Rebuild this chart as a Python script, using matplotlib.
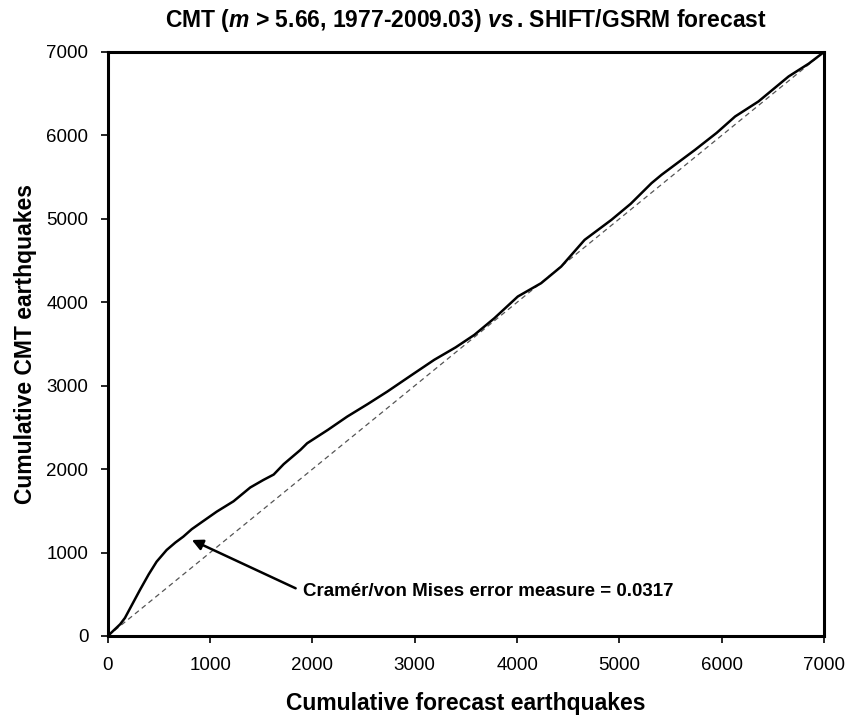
import matplotlib
matplotlib.use("Agg")
import matplotlib.pyplot as plt

forecast_cum = [0, 60, 120, 167, 230, 314, 400, 477, 575, 660, 738, 820, 902, 1065, 1229,
                1392, 1520, 1621, 1719, 1882, 1948, 2150, 2340, 2540, 2732, 2960, 3190,
                3400, 3582, 3778, 4007, 4235, 4431, 4660, 4922, 5110, 5314, 5412, 5739,
                5950, 6131, 6359, 6654, 6850, 7000]
observed_cum = [0, 70, 140, 216, 360, 552, 740, 891, 1031, 1120, 1191, 1280, 1351, 1491, 1615,
                1780, 1870, 1935, 2060, 2230, 2310, 2470, 2630, 2780, 2930, 3120, 3310,
                3460, 3609, 3809, 4069, 4229, 4428, 4748, 4988, 5180, 5428, 5528, 5827,
                6030, 6227, 6407, 6707, 6860, 7000]
diag = [0, 7000]

title = "CMT ($\\mathit{m}$ > 5.66, 1977-2009.03) $\\mathit{vs}\\,$. SHIFT/GSRM forecast"
xlabel = "Cumulative forecast earthquakes"
ylabel = "Cumulative CMT earthquakes"
annot_text = "Cramér/von Mises error measure = 0.0317"
ticks = [0, 1000, 2000, 3000, 4000, 5000, 6000, 7000]

plt.rcParams['font.family'] = ['Liberation Sans', 'DejaVu Sans']
plt.rcParams['mathtext.fontset'] = 'custom'
plt.rcParams['mathtext.it'] = 'Liberation Sans:italic:bold'
plt.rcParams['mathtext.rm'] = 'Liberation Sans:bold'

fig = plt.figure(figsize=(8.49, 7.15), dpi=100)
ax = fig.add_axes([0.127, 0.1105, 0.8436, 0.8168])

ax.plot(diag, diag, color='#555555', lw=0.9, dashes=(4, 3))
ax.plot(forecast_cum, observed_cum, color='black', lw=1.8)

ax.set_xlim(0, 7000)
ax.set_ylim(0, 7000)
ax.set_xticks(ticks)
ax.set_yticks(ticks)
ax.tick_params(axis='both', direction='out', length=5, width=1.2, labelsize=13.5)
ax.tick_params(axis='x', pad=10)
ax.tick_params(axis='y', pad=9)
for s in ax.spines.values():
    s.set_linewidth(2.2)

ax.set_title(title, fontsize=16.5, fontweight='bold', pad=18)
ax.set_xlabel(xlabel, fontsize=16.5, fontweight='bold', labelpad=13)
ax.set_ylabel(ylabel, fontsize=16.5, fontweight='bold', labelpad=7)

ax.annotate(annot_text, xy=(821, 1151), xytext=(1912, 528),
            fontsize=13.5, fontweight='bold', va='center', ha='left',
            arrowprops=dict(arrowstyle='-|>', color='black', lw=1.8,
                            mutation_scale=16, shrinkA=4, shrinkB=0,
                            relpos=(0, 0.5)))

fig.savefig("out.png", dpi=100)
